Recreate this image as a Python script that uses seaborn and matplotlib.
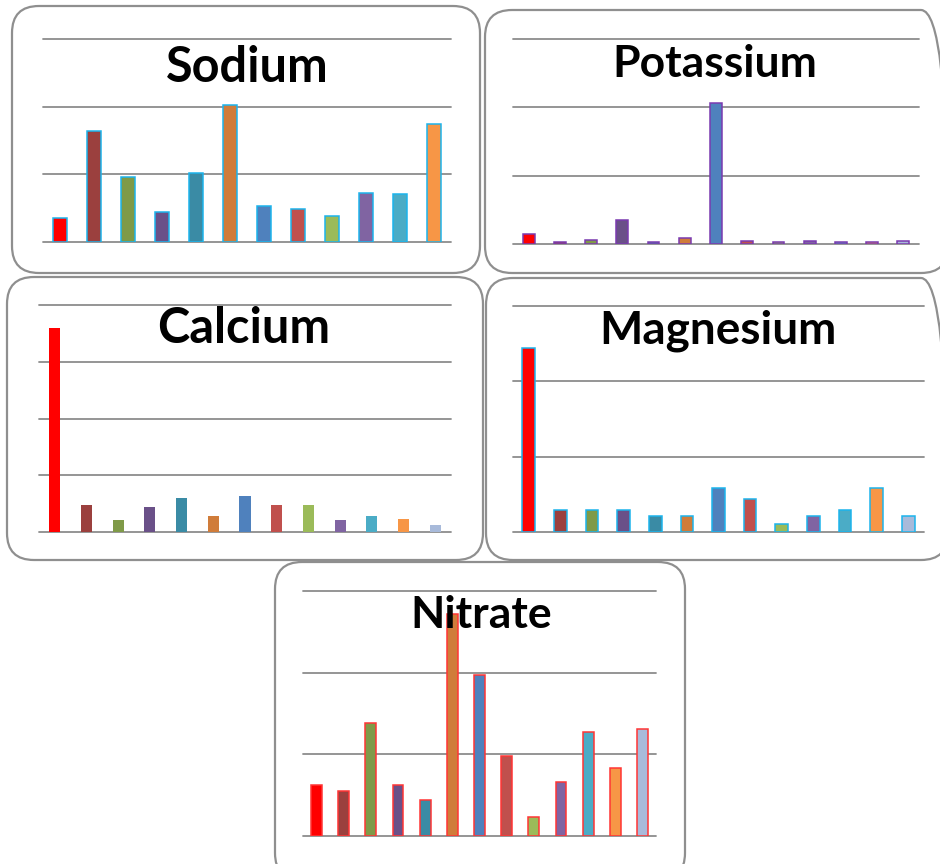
import matplotlib
matplotlib.use("Agg")
import matplotlib.pyplot as plt
import seaborn as sns
import pandas as pd
from matplotlib.patches import FancyBboxPatch

# values, in units of one gridline step
sodium = [0.36, 1.64, 0.96, 0.45, 1.02, 2.02, 0.53, 0.49, 0.38, 0.73, 0.71, 1.75]
potassium = [0.15, 0.025, 0.064, 0.35, 0.025, 0.083, 2.06, 0.044, 0.025, 0.044, 0.025, 0.025, 0.044]
calcium = [3.6, 0.48, 0.21, 0.44, 0.60, 0.28, 0.64, 0.48, 0.48, 0.21, 0.28, 0.235, 0.12]
magnesium = [2.44, 0.29, 0.29, 0.29, 0.21, 0.21, 0.59, 0.44, 0.107, 0.21, 0.29, 0.59, 0.21]
nitrate = [0.63, 0.555, 1.38, 0.63, 0.445, 2.72, 1.97, 0.976, 0.237, 0.665, 1.27, 0.837, 1.31]

samples = [f"S{i}" for i in range(1, 14)]

bar_colors = ["#FF0000", "#9B403E", "#7F9A48", "#6A5088", "#3A8BA5", "#D07C3A",
              "#4F81BD", "#C0504D", "#9BBB59", "#8064A2", "#4BACC6", "#F79646", "#A8BADA"]

W, H = 940, 864

# panel: title, values, top gridline, edge color,
# box (x0, y0, x1, y1), plot area (x0, y_top, x1, y_base), title (cx, baseline, size), bar width
panels = [
    ("Sodium", sodium, 3, "#1CB4EC", (12, 6, 480, 273), (43, 39, 451, 242), (247, 82, 35), 0.41),
    ("Potassium", potassium, 3, "#7A3AB0", (485, 10, 948, 273), (513, 39, 919, 244), (715, 77, 32), 0.38),
    ("Calcium", calcium, 4, "none", (7, 277, 483, 560), (39, 305, 451, 532), (244, 343, 35), 0.35),
    ("Magnesium", magnesium, 3, "#1CB4EC", (486, 278, 948, 560), (513, 306, 924, 532), (718, 343, 33), 0.40),
    ("Nitrate", nitrate, 3, "#FF3535", (275, 562, 685, 880), (303, 591, 656, 836), (481, 628, 32), 0.40),
]

sns.set_style("white")
plt.rcParams['font.family'] = ['Lato', 'DejaVu Sans']

fig = plt.figure(figsize=(W / 100, H / 100), dpi=100)

for title, vals, top, edge, box, area, tpos, bw in panels:
    # rounded panel frame, drawn in inches so the corners stay circular
    bx0, by0, bx1, by1 = box
    fig.patches.append(FancyBboxPatch(
        (bx0 / 100, (H - by1) / 100), (bx1 - bx0) / 100, (by1 - by0) / 100,
        boxstyle="round,pad=0,rounding_size=0.27", transform=fig.dpi_scale_trans,
        facecolor="none", edgecolor="#8F8F8F", linewidth=1.6, zorder=1))

    ax0, ay0, ax1, ay1 = area
    ax = fig.add_axes([ax0 / W, 1 - ay1 / H, (ax1 - ax0) / W, (ay1 - ay0) / H])
    ax.patch.set_visible(False)
    cats = samples[:len(vals)]
    df = pd.DataFrame({"sample": cats, "value": vals})
    sns.barplot(data=df, x="sample", y="value", hue="sample", palette=bar_colors[:len(vals)],
                saturation=1, width=bw, edgecolor=edge,
                linewidth=1.1 if edge != "none" else 0,
                legend=False, ax=ax, zorder=3)
    ax.set_xlim(-0.5, len(vals) - 0.5)
    ax.set_ylim(0, top)
    ax.set_yticks(range(top + 1))
    ax.yaxis.grid(True, color="#8C8C8C", linewidth=1.3)
    for gl in ax.get_ygridlines():
        gl.set_clip_on(False)
    ax.set_axisbelow(True)
    ax.tick_params(left=False, bottom=False, labelleft=False, labelbottom=False)
    ax.set_xlabel("")
    ax.set_ylabel("")
    sns.despine(ax=ax, left=True, bottom=True)

    cx, base, size = tpos
    fig.text(cx / W, 1 - base / H, title, ha="center", va="baseline",
             fontsize=size, fontweight="bold", color="black", zorder=5)

fig.savefig("out.png", dpi=100)
